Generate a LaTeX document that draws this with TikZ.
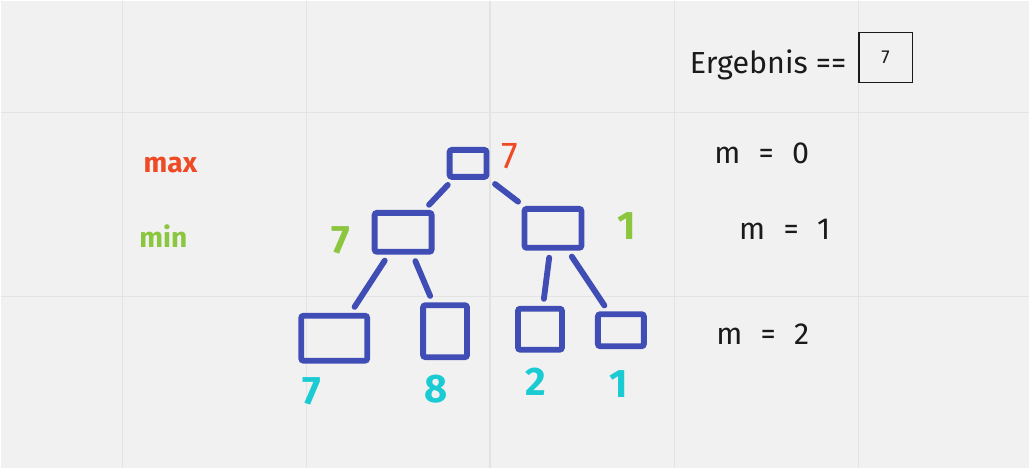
\documentclass[tikz,border=0pt]{standalone}
\usepackage{fontspec}
\setmainfont{Fira Sans}
\definecolor{mmbg}{HTML}{F1F1F1}
\definecolor{mmgrid}{HTML}{E3E3E3}
\definecolor{mmblue}{HTML}{3F4DB5}
\definecolor{mmred}{HTML}{EE4A25}
\definecolor{mmgreen}{HTML}{8CC63F}
\definecolor{mmcyan}{HTML}{1ACBD3}
\definecolor{mmink}{HTML}{1A1A1A}
\usetikzlibrary{positioning}
\begin{document}
\begin{tikzpicture}[x=0.03cm,y=-0.03cm,
  sq/.style={draw=mmblue,line width=5pt,rounded corners=2pt,inner sep=0pt},
  ed/.style={mmblue,line width=5pt,line cap=round,shorten >=6pt,shorten <=6pt},
  val/.style={font=\fontsize{34}{34}\selectfont\bfseries},
  lvl/.style={font=\fontsize{26}{26}\selectfont,text=mmink},
  tag/.style={font=\fontsize{24}{24}\selectfont\bfseries}]
\fill[mmbg] (0,0) rectangle (1030,468);
\foreach \x in {122,306,490,675,859} \draw[mmgrid,line width=1pt] (\x,0) -- (\x,468);
\foreach \y in {112,296} \draw[mmgrid,line width=1pt] (0,\y) -- (1030,\y);
\useasboundingbox (0,0) rectangle (1030,468);
\node[sq,minimum width=1.11cm,minimum height=0.81cm] (r) at (468,163) {};
\node[sq,minimum width=1.71cm,minimum height=1.17cm] (a) at (403,232) {};
\node[sq,minimum width=1.71cm,minimum height=1.17cm] (b) at (553,228) {};
\node[sq,minimum width=1.98cm,minimum height=1.35cm] (a1) at (334,338) {};
\node[sq,minimum width=1.32cm,minimum height=1.56cm] (a2) at (445,331) {};
\node[sq,minimum width=1.32cm,minimum height=1.23cm] (b1) at (540,329) {};
\node[sq,minimum width=1.38cm,minimum height=0.96cm] (b2) at (621,330) {};
\draw[ed] (r) -- (a);
\draw[ed] (r) -- (b);
\draw[ed] (a) -- (a1);
\draw[ed] (a) -- (a2);
\draw[ed] (b) -- (b1);
\draw[ed] (b) -- (b2);
\node[font=\fontsize{32}{32}\selectfont,text=mmred] (rv) at (510,156) {7};
\node[val,text=mmgreen] (av) at (341,240) {7};
\node[val,text=mmgreen] (bv) at (627,226) {1};
\node[val,text=mmcyan] (a1v) at (312,391) {7};
\node[val,text=mmcyan] (a2v) at (436,389) {8};
\node[val,text=mmcyan] (b1v) at (536,382) {2};
\node[val,text=mmcyan] (b2v) at (619,384) {1};
\node[tag,text=mmred] (mx) at (170,165) {max};
\node[tag,text=mmgreen] (mn) at (163,236) {min};
\node[lvl] (m0) at (762,153) {m\hspace{0.6em}=\hspace{0.6em}0};
\node[lvl] (m1) at (785,229) {m\hspace{0.6em}=\hspace{0.6em}1};
\node[lvl] (m2) at (763,334) {m\hspace{0.6em}=\hspace{0.6em}2};
\node[lvl,anchor=west] (res) at (686,64) {Ergebnis ==};
\node[draw=mmink,line width=1.5pt,minimum width=1.62cm,minimum height=1.5cm,
  font=\fontsize{16}{16}\selectfont,text=mmink] (box) at (886,57) {7};
\end{tikzpicture}
\end{document}
